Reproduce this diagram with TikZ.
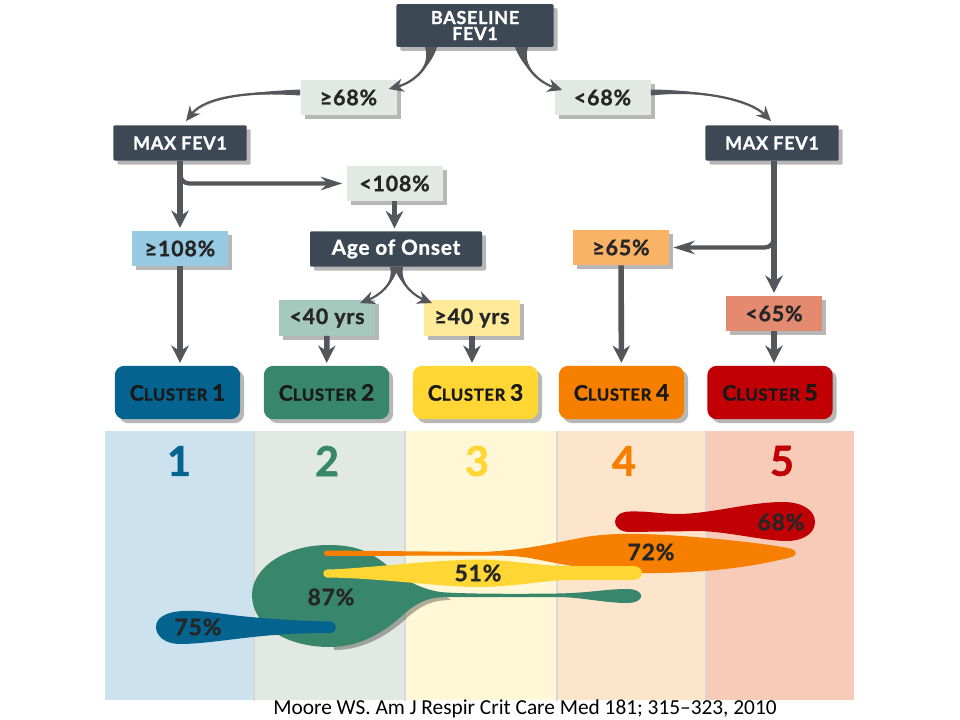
\documentclass[tikz,border=0pt]{standalone}
\usepackage{fontspec}
\setmainfont{Lato}[LetterSpace=4,BoldFeatures={FakeBold=1.2}]
\newfontfamily\citefont{Carlito}
\usetikzlibrary{arrows.meta,calc,shadows}
\definecolor{darkbox}{HTML}{3D4855}
\definecolor{palebox}{HTML}{E1E9E2}
\definecolor{edgegray}{HTML}{55565C}
\definecolor{clusA}{HTML}{04648F}
\definecolor{clusB}{HTML}{38866B}
\definecolor{clusC}{HTML}{FFD633}
\definecolor{clusD}{HTML}{F77F00}
\definecolor{clusE}{HTML}{C00005}
\definecolor{panelA}{HTML}{CCE3EF}
\definecolor{panelE}{HTML}{F8CBB8}
\begin{document}
\begin{tikzpicture}[x=0.75pt,y=-0.75pt]
    \newcommand{\clusterName}[1]{{\fontsize{16}{16}\selectfont C}LUSTER {\fontsize{17}{17}\selectfont #1}}
    \newcommand{\taperEdge}[5]{
      \fill[edgegray] #1 .. controls #3 and #4 .. #5 .. controls #4 and #3 .. #2 -- cycle;
      \draw[cedge] ($#1!.5!#2$) .. controls #3 and #4 .. #5;
    }
    
    \tikzstyle{dedge} = [line width=4.2pt,-{Stealth[length=13pt,width=13pt]},draw=edgegray,shorten >=2pt]
    \tikzstyle{hedge} = [line width=3.2pt,-{Stealth[length=16pt,width=10pt]},draw=edgegray,shorten >=3pt,rounded corners=7pt]
    \tikzstyle{cedge} = [line width=1.6pt,-{Stealth[length=11pt,width=10pt]},draw=edgegray]
    
    \tikzstyle{boxshadow} = [drop shadow={shadow xshift=3pt,shadow yshift=-3pt,opacity=.4,fill=black!70}]
    \tikzstyle{flowbox} = [
      rectangle,
      anchor=center,
      boxshadow,
      inner sep=0pt,
      minimum width=72pt,
      minimum height=26.5pt,
      text=black!85,
      font=\bfseries\fontsize{16}{18}\selectfont,
    ]
    \tikzstyle{darkflow} = [flowbox,fill=darkbox,text=white,rounded corners=1pt,font=\bfseries\fontsize{13.5}{14}\selectfont]
    \tikzstyle{clusterbox} = [flowbox,rounded corners=7pt,minimum width=94pt,minimum height=40pt,font=\bfseries\fontsize{12.5}{14}\selectfont,text=black!90]
    \tikzstyle{panel} = [draw=none,inner sep=0pt,minimum height=201.75pt,anchor=north west]
    \tikzstyle{panelnum} = [inner sep=0pt,font=\bfseries\fontsize{31}{31}\selectfont]
    \tikzstyle{blob} = [inner sep=0pt,text=black!85,font=\bfseries\fontsize{17}{19}\selectfont]
    
    \useasboundingbox (0,0) rectangle (960,720);
    
    % bottom panels
    \node[panel,fill=panelA,minimum width=111.75pt] (p1) at (105,431) {};
    \node[panel,fill=palebox,minimum width=113.25pt] (p2) at (254,431) {};
    \node[panel,fill=clusC!20!white,minimum width=114pt] (p3) at (405,431) {};
    \node[panel,fill=clusD!20!white,minimum width=111.75pt] (p4) at (557,431) {};
    \node[panel,fill=panelE,minimum width=111pt] (p5) at (706,431) {};
    \draw[black!15,line width=.8pt] (p2.north west)--(p2.south west);
    \draw[black!15,line width=.8pt] (p3.north west)--(p3.south west);
    \draw[black!15,line width=.8pt] (p4.north west)--(p4.south west);
    \draw[black!15,line width=.8pt] (p5.north west)--(p5.south west);
    
    \node[panelnum,text=clusA] (n1) at (179,461) {1};
    \node[panelnum,text=clusB] (n2) at (327,461) {2};
    \node[panelnum,text=clusC] (n3) at (477,461) {3};
    \node[panelnum,text=clusD] (n4) at (624,461) {4};
    \node[panelnum,text=clusE] (n5) at (782,461) {5};
    
    % cluster shapes
    \fill[black,opacity=.3] (332,548) .. controls (354,548) and (369,552) .. (384,563) .. controls (399,574) and (414,590) .. (444,595) -- (451,600) .. controls (429,600) and (419,608) .. (409,616) .. controls (389,635) and (364,650) .. (334,650) -- cycle;
    \fill[clusB] (328,545) .. controls (350,545) and (365,549) .. (380,560) .. controls (395,571) and (410,587) .. (440,592) .. controls (460,594) and (520,594) .. (557,593.5) .. controls (590,593) and (605,589) .. (627,589) .. controls (646,589) and (646,603) .. (627,603) .. controls (605,603) and (580,597) .. (557,597) -- (447,597) .. controls (425,597) and (415,605) .. (405,613) .. controls (385,632) and (360,647) .. (330,647) .. controls (285,647) and (252,625) .. (252,595) .. controls (252,568) and (285,545) .. (328,545) -- cycle;
    \fill[clusD] (327,550.5) -- (480,552) .. controls (515,551) and (540,546) .. (580,538) .. controls (610,532) and (650,533) .. (707,538) .. controls (740,541) and (775,545) .. (792,549) .. controls (797,551) and (797,555) .. (792,557) .. controls (760,565) and (720,572) .. (660,573) .. controls (610,574) and (570,566) .. (530,558) .. controls (515,555.5) and (500,555.5) .. (480,555.5) -- (327,556) .. controls (323,556) and (323,550.5) .. (327,550.5) -- cycle;
    \fill[clusC] (327,569.5) .. controls (360,569) and (430,560) .. (480,559.5) .. controls (510,560) and (540,566) .. (567,566) -- (633,566) .. controls (645,566) and (645,580) .. (633,580) -- (567,580) .. controls (540,581) and (510,587) .. (480,587) .. controls (440,587) and (380,578) .. (327,577.5) .. controls (322,577) and (322,570) .. (327,569.5) -- cycle;
    \fill[clusA] (330,621.5) .. controls (300,621) and (270,619) .. (240,616) .. controls (215,613) and (200,610) .. (183,611) .. controls (165,612) and (156,618) .. (156,627) .. controls (156,636) and (165,644) .. (180,644) .. controls (200,644) and (225,640) .. (253,637) .. controls (280,634) and (305,633) .. (330,633) .. controls (338,633) and (338,621.5) .. (330,621.5) -- cycle;
    \fill[clusE] (630,511.5) .. controls (650,511) and (660,514) .. (680,514) .. controls (715,513) and (750,502) .. (783,502) .. controls (802,502) and (815,510) .. (815,522) .. controls (815,534) and (802,541) .. (787,541) .. controls (765,541) and (730,532) .. (700,531) -- (630,532) .. controls (610,532) and (610,511.5) .. (630,511.5) -- cycle;
    
    \node[blob] (v1) at (198,627) {75\%};
    \node[blob] (v2) at (331,597) {87\%};
    \node[blob] (v3) at (478,573) {51\%};
    \node[blob] (v4) at (651,552) {72\%};
    \node[blob] (v5) at (781,522) {68\%};
    
    % flow boxes
    \node[darkflow,minimum width=118pt,minimum height=32pt,align=center] (baseline) at (475,25.5) {BASELINE\\[-2pt]FEV1};
    \node[flowbox,fill=palebox] (ge68) at (348.5,97.5) {≥68\%};
    \node[flowbox,fill=palebox] (lt68) at (602.5,97.5) {<68\%};
    \node[darkflow,minimum width=100pt] (maxl) at (180,143) {MAX FEV1};
    \node[darkflow,minimum width=100pt] (maxr) at (772,143) {MAX FEV1};
    \node[flowbox,fill=palebox] (lt108) at (394.5,183.5) {<108\%};
    \node[flowbox,fill={rgb,255:red,151;green,202;blue,227}] (ge108) at (180,248.5) {≥108\%};
    \node[darkflow,minimum width=129pt,font=\bfseries\fontsize{15.5}{17}\selectfont] (age) at (396,249) {Age of Onset};
    \node[flowbox,fill=clusB!45!white] (lt40) at (327,318) {<40 yrs};
    \node[flowbox,fill=clusC!50!white] (ge40) at (472,318) {≥40 yrs};
    \node[flowbox,fill=clusD!60!white] (ge65) at (621,247.5) {≥65\%};
    \node[flowbox,fill={rgb,255:red,228;green,138;blue,112}] (lt65) at (774,313.5) {<65\%};
    
    \node[clusterbox,fill=clusA] (c1) at (177.5,392.5) {\clusterName{1}};
    \node[clusterbox,fill=clusB] (c2) at (326.5,392.5) {\clusterName{2}};
    \node[clusterbox,fill=clusC] (c3) at (475.5,392.5) {\clusterName{3}};
    \node[clusterbox,fill=clusD] (c4) at (621.5,392.5) {\clusterName{4}};
    \node[clusterbox,fill=clusE] (c5) at (770,392.5) {\clusterName{5}};
    
    % connectors
    \taperEdge{($(baseline.south)+(-50,0)$)}{($(baseline.south)+(-38,0)$)}{(431,66)}{(415,82)}{($(ge68.east)+(-8,-8.5)$)}
    \taperEdge{($(baseline.south)+(40,0)$)}{($(baseline.south)+(53,0)$)}{(522,66)}{(538,82)}{($(lt68.west)+(8,-7.5)$)}
    \taperEdge{($(ge68.west)+(0,-8)$)}{($(ge68.west)+(0,-2)$)}{(245,92)}{(205,97)}{($(maxl.north)+(6,-4)$)}
    \taperEdge{($(lt68.east)+(0,-8)$)}{($(lt68.east)+(0,-2)$)}{(705,90)}{(750,100)}{($(maxr.north)+(-1,-4)$)}
    \taperEdge{($(age.south)+(-6,0)$)}{($(age.south)+(2,0)$)}{(394,285)}{(378,296)}{($(lt40.north)+(33,3)$)}
    \taperEdge{($(age.south)+(-2,0)$)}{($(age.south)+(7,0)$)}{(400,285)}{(415,296)}{($(ge40.north)+(-40,3)$)}
    
    \draw[dedge] (maxl)--(ge108);
    \draw[hedge] (maxl.south)|-(lt108.west);
    \draw[dedge] (lt108)--(lt108|-age.north);
    \draw[dedge] (ge108)--(ge108|-c1.north);
    \draw[dedge] (lt40)--(c2);
    \draw[dedge] (ge40)--(ge40|-c3.north);
    \draw[dedge] (ge65)--(c4);
    \draw[dedge] (lt65)--(lt65|-c5.north);
    \draw[dedge] (maxr.south-|lt65)--(lt65.north);
    \draw[hedge] (maxr.south-|lt65)|-(ge65.east);
    
    \node[inner sep=0pt,font=\citefont\fontsize{16}{18}\selectfont] (cite) at (525,709) {Moore WS. Am J Respir Crit Care Med 181; 315–323, 2010};
  \end{tikzpicture}
\end{document}
